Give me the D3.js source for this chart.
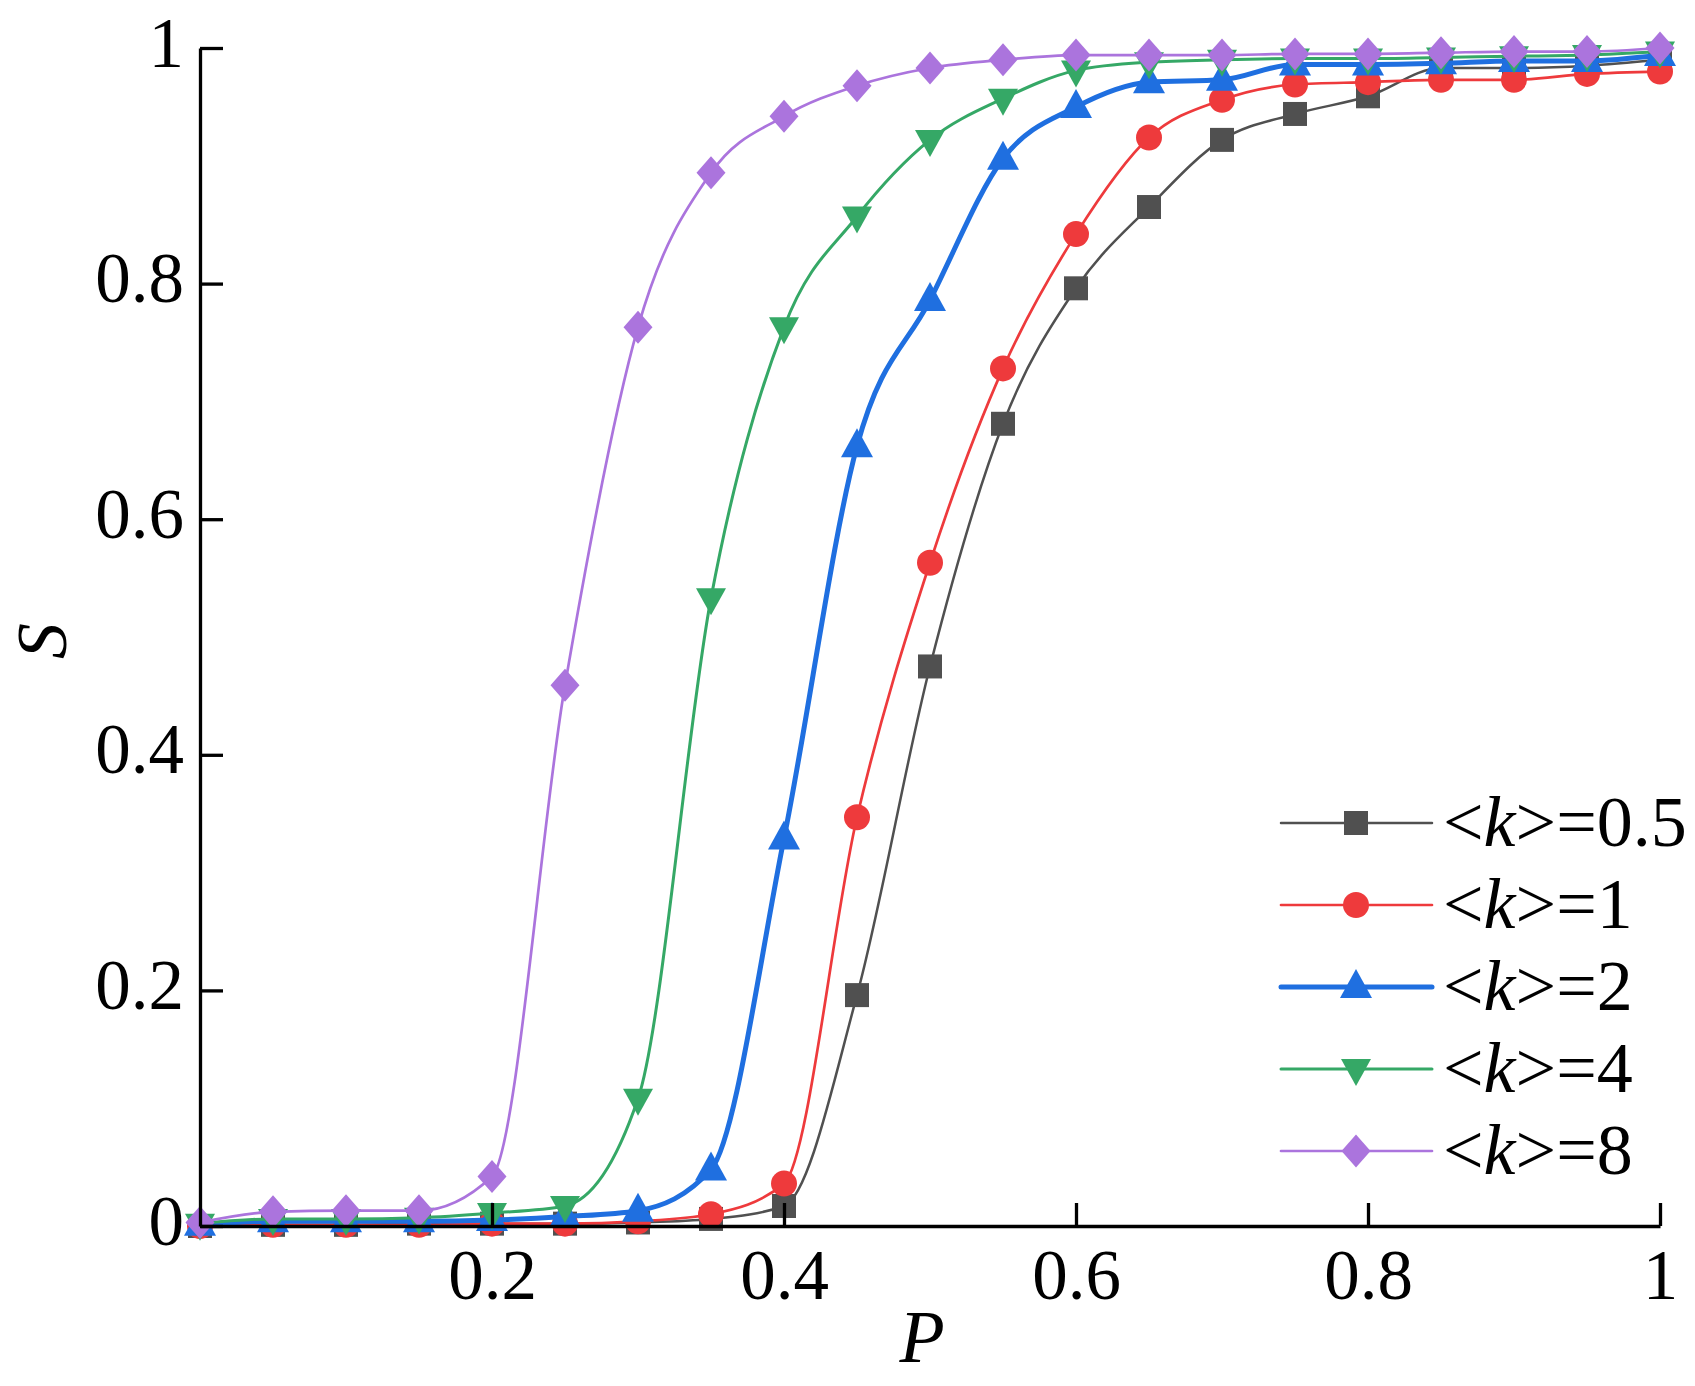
<!DOCTYPE html>
<html>
<head>
<meta charset="utf-8">
<script src="https://cdn.jsdelivr.net/npm/d3@7"></script>
<style>
  body { margin: 0; background: #fff; }
  text { font-family: "Liberation Serif", "Times New Roman", serif; fill: #000; }
</style>
</head>
<body>
<svg id="chart"></svg>
<script>
// x values (P) and S for each <k>
const pValues = [0, 0.05, 0.1, 0.15, 0.2, 0.25, 0.3, 0.35, 0.4, 0.45, 0.5,
                 0.55, 0.6, 0.65, 0.7, 0.75, 0.8, 0.85, 0.9, 0.95, 1];
const sK05 = [0, 0.001, 0.001, 0.002, 0.002, 0.002, 0.003, 0.006, 0.017, 0.196, 0.475,
              0.681, 0.796, 0.865, 0.922, 0.944, 0.959, 0.983, 0.983, 0.985, 0.990];
const sK1  = [0, 0.001, 0.001, 0.001, 0.002, 0.002, 0.004, 0.010, 0.036, 0.347, 0.563,
              0.728, 0.842, 0.924, 0.956, 0.969, 0.971, 0.973, 0.973, 0.978, 0.980];
const sK2  = [0.001, 0.004, 0.004, 0.004, 0.005, 0.008, 0.013, 0.048, 0.329, 0.662, 0.786,
              0.906, 0.950, 0.971, 0.973, 0.986, 0.986, 0.987, 0.989, 0.989, 0.994];
const sK4  = [0.002, 0.006, 0.006, 0.007, 0.011, 0.017, 0.108, 0.533, 0.763, 0.857, 0.922,
              0.957, 0.981, 0.988, 0.990, 0.991, 0.991, 0.992, 0.993, 0.994, 0.997];
const sK8  = [0.003, 0.012, 0.013, 0.013, 0.042, 0.459, 0.763, 0.894, 0.942, 0.968, 0.983,
              0.990, 0.994, 0.994, 0.994, 0.995, 0.995, 0.996, 0.997, 0.997, 1.0];

const kLabels = ["0.5", "1", "2", "4", "8"];
const xTicks = [0.2, 0.4, 0.6, 0.8, 1];
const yTicks = [0, 0.2, 0.4, 0.6, 0.8, 1];

const series = [
    { k: kLabels[0], values: sK05, color: "#505050", width: 2.5, shape: "square" },
    { k: kLabels[1], values: sK1,  color: "#ee3a3c", width: 2.7, shape: "circle" },
    { k: kLabels[2], values: sK2,  color: "#1f6fe0", width: 5,   shape: "up" },
    { k: kLabels[3], values: sK4,  color: "#35a866", width: 3,   shape: "down" },
    { k: kLabels[4], values: sK8,  color: "#ab74dd", width: 2.7, shape: "diamond" }
];

const width = 1695;
const height = 1386;
const margin = { left: 200, right: 35, top: 48, bottom: 160 };
const fontSize = 71;

const svg = d3.select("#chart")
    .attr("width", width)
    .attr("height", height);

const x = d3.scaleLinear().domain([0, 1]).range([margin.left, width - margin.right]);
const y = d3.scaleLinear().domain([0, 1]).range([height - margin.bottom, margin.top]);

// marker shapes, centred on 0,0
function markerPath(shape) {
    switch (shape) {
        case "square": return "M-12,-12H12V12H-12Z";
        case "circle": return "M-13,0A13,13 0 1,0 13,0A13,13 0 1,0 -13,0Z";
        case "up": return "M0,-18L16,11H-16Z";
        case "down": return "M0,17L15,-10H-15Z";
        case "diamond": return "M0,-16.5L14.5,0L0,16.5L-14.5,0Z";
    }
}

const line = d3.line()
    .x((d, i) => x(pValues[i]))
    .y(d => y(d))
    .curve(d3.curveMonotoneX);

// series: line + symbols, in plot order
series.forEach(s => {
    const g = svg.append("g");
    g.append("path")
        .datum(s.values)
        .attr("fill", "none")
        .attr("stroke", s.color)
        .attr("stroke-width", s.width)
        .attr("stroke-linejoin", "round")
        .attr("d", line);
    g.selectAll("path.mk")
        .data(s.values)
        .join("path")
        .attr("class", "mk")
        .attr("transform", (d, i) => `translate(${x(pValues[i])},${y(d)})`)
        .attr("d", markerPath(s.shape))
        .attr("fill", s.color);
});

// axes (ticks pointing inwards)
const xAxis = svg.append("g")
    .attr("transform", `translate(0,${y(0)})`)
    .call(d3.axisBottom(x).tickValues(xTicks).tickSize(-23).tickSizeOuter(0).tickFormat(d3.format("")));
const yAxis = svg.append("g")
    .attr("transform", `translate(${x(0)},0)`)
    .call(d3.axisLeft(y).tickValues(yTicks).tickSize(-23).tickSizeOuter(0).tickFormat(d3.format("")));

[xAxis, yAxis].forEach(a => {
    a.select(".domain").attr("stroke", "#000").attr("stroke-width", 3.3);
    a.selectAll(".tick line").attr("stroke", "#000").attr("stroke-width", 3.3);
    a.selectAll(".tick text")
        .style("font-family", '"Liberation Serif", "Times New Roman", serif')
        .style("font-size", fontSize + "px")
        .attr("fill", "#000");
});
xAxis.selectAll(".tick text").attr("y", 0).attr("dy", 0).attr("transform", "translate(0,73)");
yAxis.selectAll(".tick text").attr("x", -16).attr("dy", 0).attr("transform", "translate(0,18)");

// axis titles
svg.append("text")
    .attr("x", 922)
    .attr("y", 1362)
    .attr("text-anchor", "middle")
    .style("font-size", "74px")
    .style("font-style", "italic")
    .text("P");

svg.append("text")
    .attr("transform", `translate(66,${(y(0) + y(1)) / 2 + 4}) rotate(-90)`)
    .attr("text-anchor", "middle")
    .style("font-size", "72px")
    .style("font-style", "italic")
    .text("S");

// legend
const legend = svg.append("g").attr("transform", "translate(1281,823)");
const rowGap = 82;

series.forEach((s, i) => {
    const row = legend.append("g").attr("transform", `translate(0,${i * rowGap})`);
    row.append("line")
        .attr("x1", 0).attr("x2", 151)
        .attr("y1", 0).attr("y2", 0)
        .attr("stroke", s.color)
        .attr("stroke-width", s.width)
        .attr("stroke-linecap", "round");
    row.append("path")
        .attr("transform", "translate(75,0)")
        .attr("d", markerPath(s.shape))
        .attr("fill", s.color);
    const t = row.append("text")
        .attr("x", 162)
        .attr("y", 23)
        .style("font-size", "72px");
    t.append("tspan").text("<");
    t.append("tspan").style("font-style", "italic").text("k");
    t.append("tspan").text(">=" + s.k);
});
</script>
</body>
</html>
